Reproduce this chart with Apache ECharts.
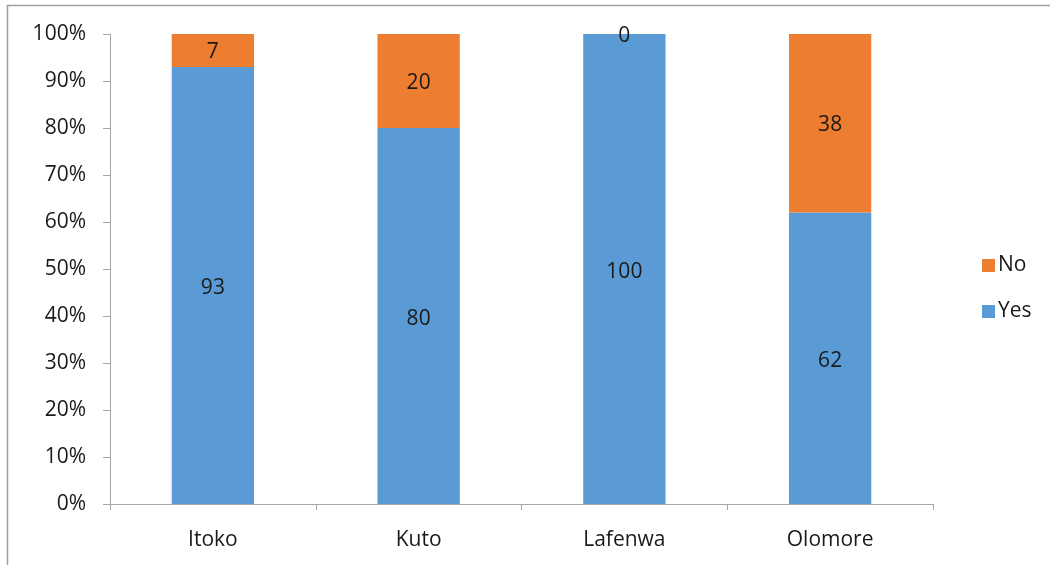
<!DOCTYPE html>
<html>
<head>
<meta charset="utf-8">
<script src="https://cdn.jsdelivr.net/npm/echarts@6/dist/echarts.min.js"></script>
<style>
html,body{margin:0;padding:0;background:#fff;}
#chart{width:1050px;height:565px;}
</style>
</head>
<body>
<div id="chart"></div>
<script>
const categories = ['Itoko', 'Kuto', 'Lafenwa', 'Olomore'];
const yesValues = [93, 80, 100, 62];
const noValues = [7, 20, 0, 38];
const yTickLabels = ['0%','10%','20%','30%','40%','50%','60%','70%','80%','90%','100%'];

const FONT = '"Open Sans", "Liberation Sans", sans-serif';
const FS = 21;
const chart = echarts.init(document.getElementById('chart'), null, {renderer: 'canvas'});
chart.setOption({
  animation: false,
  backgroundColor: '#fff',
  graphic: [{
    type: 'rect',
    shape: {x: 7.5, y: 5.5, width: 1100, height: 700},
    style: {fill: 'none', stroke: '#a0a0a0', lineWidth: 1.5},
    silent: true, z: -1
  }],
  grid: {left: 110, right: 117, top: 34, bottom: 61},
  legend: {
    data: ['No', 'Yes'],
    orient: 'vertical',
    left: 977,
    top: 250,
    itemWidth: 13,
    itemHeight: 13,
    itemGap: 25,
    icon: 'rect',
    textStyle: {fontFamily: FONT, fontSize: FS, color: '#1a1a1a', padding: [0,0,0,-2]}
  },
  xAxis: {
    type: 'category',
    data: categories,
    axisLine: {lineStyle: {color: '#a6a6a6', width: 1}},
    axisTick: {show: true, length: 6, alignWithLabel: false, lineStyle: {color: '#a6a6a6'}},
    axisLabel: {fontFamily: FONT, fontSize: FS, color: '#1a1a1a', margin: 26}
  },
  yAxis: {
    type: 'value',
    min: 0, max: 100, interval: 10,
    axisLine: {show: true, lineStyle: {color: '#a6a6a6', width: 1}},
    axisTick: {show: true, length: 7, lineStyle: {color: '#a6a6a6'}},
    splitLine: {show: false},
    axisLabel: {
      fontFamily: FONT, fontSize: FS, color: '#1a1a1a', margin: 24,
      formatter: function (v) { return yTickLabels[Math.round(v / 10)]; }
    }
  },
  series: [
    {
      name: 'Yes', type: 'bar', stack: 'total', data: yesValues,
      barWidth: '40%',
      itemStyle: {color: '#5B9BD5'},
      label: {show: true, position: 'inside', offset: [0, 3], fontFamily: FONT, fontSize: FS, color: '#1a1a1a'}
    },
    {
      name: 'No', type: 'bar', stack: 'total', data: noValues,
      barWidth: '40%',
      itemStyle: {color: '#ED7D31'},
      label: {show: true, position: 'inside', offset: [0, 2], fontFamily: FONT, fontSize: FS, color: '#1a1a1a'}
    }
  ]
});
</script>
</body>
</html>
